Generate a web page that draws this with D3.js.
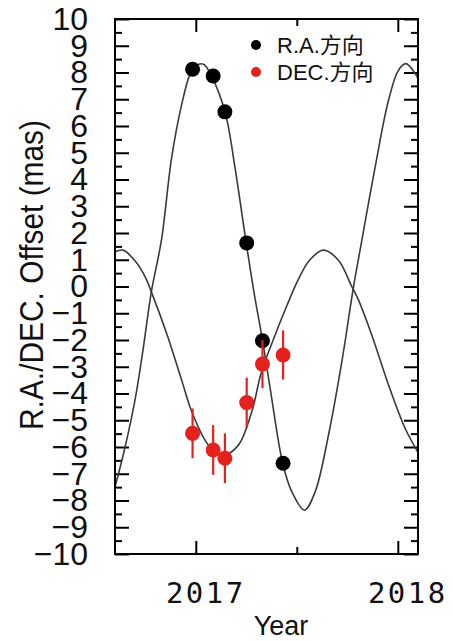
<!DOCTYPE html>
<html>
<head>
<meta charset="utf-8">
<script src="https://cdn.jsdelivr.net/npm/d3@7"></script>
<style>
  body { margin: 0; background: #fff; }
  svg { display: block; }
</style>
</head>
<body>
<svg id="chart" width="453" height="641"></svg>
<script>
// observed points
var obsYear = [2016.984, 2017.086, 2017.144, 2017.252, 2017.330, 2017.432];
var raObs   = [8.12, 7.87, 6.53, 1.63, -2.03, -6.61];
var decObs  = [-5.49, -6.11, -6.42, -4.34, -2.90, -2.56];
var decErr  = [0.93, 0.93, 0.93, 0.93, 0.90, 0.92];

// model curves
var raCurveYear = [2016.60, 2016.65, 2016.70, 2016.74, 2016.78, 2016.83, 2016.88, 2016.93, 2016.972, 2017.00,
  2017.038, 2017.079, 2017.145, 2017.195, 2017.251, 2017.29, 2017.33, 2017.37, 2017.43, 2017.475,
  2017.538, 2017.591, 2017.657, 2017.723, 2017.781, 2017.813, 2017.888, 2017.954, 2018.003, 2018.04,
  2018.086, 2018.10];
var raCurveVal = [-7.5, -6.0, -4.2, -2.3, -0.2, 1.74, 4.8, 6.8, 7.95, 8.25,
  8.31, 7.85, 6.52, 4.4, 1.55, -0.3, -2.0, -3.9, -6.6, -7.67,
  -8.36, -7.67, -5.55, -2.81, 0.0, 1.35, 4.47, 6.96, 8.08, 8.33,
  7.96, 7.77];

var decCurveYear = [2016.60, 2016.64, 2016.70, 2016.75, 2016.78, 2016.86, 2016.93, 2016.98, 2017.063, 2017.137,
  2017.211, 2017.277, 2017.325, 2017.383, 2017.449, 2017.506, 2017.564, 2017.632, 2017.706, 2017.772,
  2017.805, 2017.871, 2017.954, 2018.036, 2018.10];
var decCurveVal = [1.30, 1.36, 0.95, 0.35, -0.2, -1.85, -3.5, -4.68, -5.93, -6.30,
  -5.93, -4.68, -3.2, -2.0, -0.75, 0.24, 0.99, 1.36, 0.98, 0.0,
  -0.5, -1.81, -3.68, -5.30, -6.2];

var yMajor = d3.range(-10, 11, 1);
var yMinor = d3.range(-9.5, 10, 1);
var xMajor = [2017, 2018];
var xMinor = [2017.5];
var legendLabels = ["R.A.方向", "DEC.方向"];

var RED = "#e4211c";
var pLeft = 115, pRight = 418, pTop = 19, pBottom = 554;

var svg = d3.select("#chart");
var x = d3.scaleLinear().domain([2016.6, 2018.1]).range([pLeft, pRight]);
var y = d3.scaleLinear().domain([-10, 10]).range([pBottom, pTop]);

svg.append("clipPath").attr("id", "plotclip")
  .append("rect").attr("x", pLeft).attr("y", pTop)
  .attr("width", pRight - pLeft).attr("height", pBottom - pTop);

// ticks, all pointing inward
var tickAxis = function(axis, transform){
  var g = svg.append("g").attr("transform", transform).call(axis);
  g.select(".domain").remove();
  g.selectAll(".tick line").attr("stroke", "#000").attr("stroke-width", 2);
  return g;
};
var yLab = tickAxis(d3.axisLeft(y).tickValues(yMajor).tickSize(-14).tickPadding(27), "translate(" + pLeft + ",0)");
yLab.selectAll("text").attr("font-family", "Liberation Sans, Arial, sans-serif")
  .attr("font-size", 32).attr("fill", "#111");
tickAxis(d3.axisLeft(y).tickValues(yMinor).tickSize(-7).tickFormat(""), "translate(" + pLeft + ",0)");
tickAxis(d3.axisRight(y).tickValues(yMajor).tickSize(-14).tickFormat(""), "translate(" + pRight + ",0)");
tickAxis(d3.axisRight(y).tickValues(yMinor).tickSize(-7).tickFormat(""), "translate(" + pRight + ",0)");
tickAxis(d3.axisTop(x).tickValues(xMajor).tickSize(-13).tickFormat(""), "translate(0," + pTop + ")");
tickAxis(d3.axisTop(x).tickValues(xMinor).tickSize(-7).tickFormat(""), "translate(0," + pTop + ")");
tickAxis(d3.axisBottom(x).tickValues(xMajor).tickSize(-13).tickFormat(""), "translate(0," + pBottom + ")");
tickAxis(d3.axisBottom(x).tickValues(xMinor).tickSize(-7).tickFormat(""), "translate(0," + pBottom + ")");

// year labels
svg.selectAll(".xlab").data(xMajor).enter().append("text")
  .attr("class", "xlab")
  .attr("x", function(d){ return x(d) + 10; }).attr("y", 603)
  .attr("text-anchor", "middle")
  .attr("font-family", "DejaVu Sans Mono, monospace").attr("font-size", 29)
  .attr("letter-spacing", 2.5).attr("fill", "#111")
  .text(function(d){ return d; });

svg.append("text").attr("x", 281).attr("y", 635).attr("text-anchor", "middle")
  .attr("font-family", "Liberation Sans, Arial, sans-serif").attr("font-size", 27)
  .attr("fill", "#111").text("Year");

svg.append("text").attr("transform", "translate(43,275) rotate(-90)")
  .attr("text-anchor", "middle")
  .attr("font-family", "Liberation Sans, Arial, sans-serif").attr("font-size", 33)
  .attr("textLength", 310).attr("lengthAdjust", "spacingAndGlyphs")
  .attr("fill", "#111").text("R.A./DEC. Offset (mas)");

// model curves
var line = d3.line().curve(d3.curveCatmullRom.alpha(0.5))
  .x(function(d){ return x(d[0]); }).y(function(d){ return y(d[1]); });
var plot = svg.append("g").attr("clip-path", "url(#plotclip)");
plot.append("path").datum(d3.zip(decCurveYear, decCurveVal))
  .attr("d", line).attr("fill", "none").attr("stroke", "#3a3a3a").attr("stroke-width", 1.6);
plot.append("path").datum(d3.zip(raCurveYear, raCurveVal))
  .attr("d", line).attr("fill", "none").attr("stroke", "#3a3a3a").attr("stroke-width", 1.6);

// frame
svg.append("rect").attr("x", pLeft).attr("y", pTop)
  .attr("width", pRight - pLeft).attr("height", pBottom - pTop)
  .attr("fill", "none").attr("stroke", "#000").attr("stroke-width", 2);

// RA points
svg.selectAll(".ra").data(d3.zip(obsYear, raObs)).enter().append("circle")
  .attr("class", "ra")
  .attr("cx", function(d){ return x(d[0]); }).attr("cy", function(d){ return y(d[1]); })
  .attr("r", 7.5).attr("fill", "#000");

// DEC points with error bars
var dec = d3.zip(obsYear, decObs, decErr);
svg.selectAll(".err").data(dec).enter().append("line")
  .attr("class", "err")
  .attr("x1", function(d){ return x(d[0]); }).attr("x2", function(d){ return x(d[0]); })
  .attr("y1", function(d){ return y(d[1] - d[2]); }).attr("y2", function(d){ return y(d[1] + d[2]); })
  .attr("stroke", RED).attr("stroke-width", 2.2);
svg.selectAll(".dec").data(dec).enter().append("circle")
  .attr("class", "dec")
  .attr("cx", function(d){ return x(d[0]); }).attr("cy", function(d){ return y(d[1]); })
  .attr("r", 7.5).attr("fill", RED);

// legend
var legend = svg.append("g");
legend.selectAll("circle").data(legendLabels).enter().append("circle")
  .attr("cx", 256).attr("cy", function(d, i){ return 45 + i * 27; })
  .attr("r", 5).attr("fill", function(d, i){ return i == 0 ? "#000" : RED; });
legend.selectAll("text").data(legendLabels).enter().append("text")
  .attr("x", 277).attr("y", function(d, i){ return 53 + i * 27; })
  .attr("font-family", "Liberation Sans, Arial, Noto Sans CJK SC, sans-serif")
  .attr("font-size", 22).attr("fill", "#111")
  .text(function(d){ return d; });
</script>
</body>
</html>
